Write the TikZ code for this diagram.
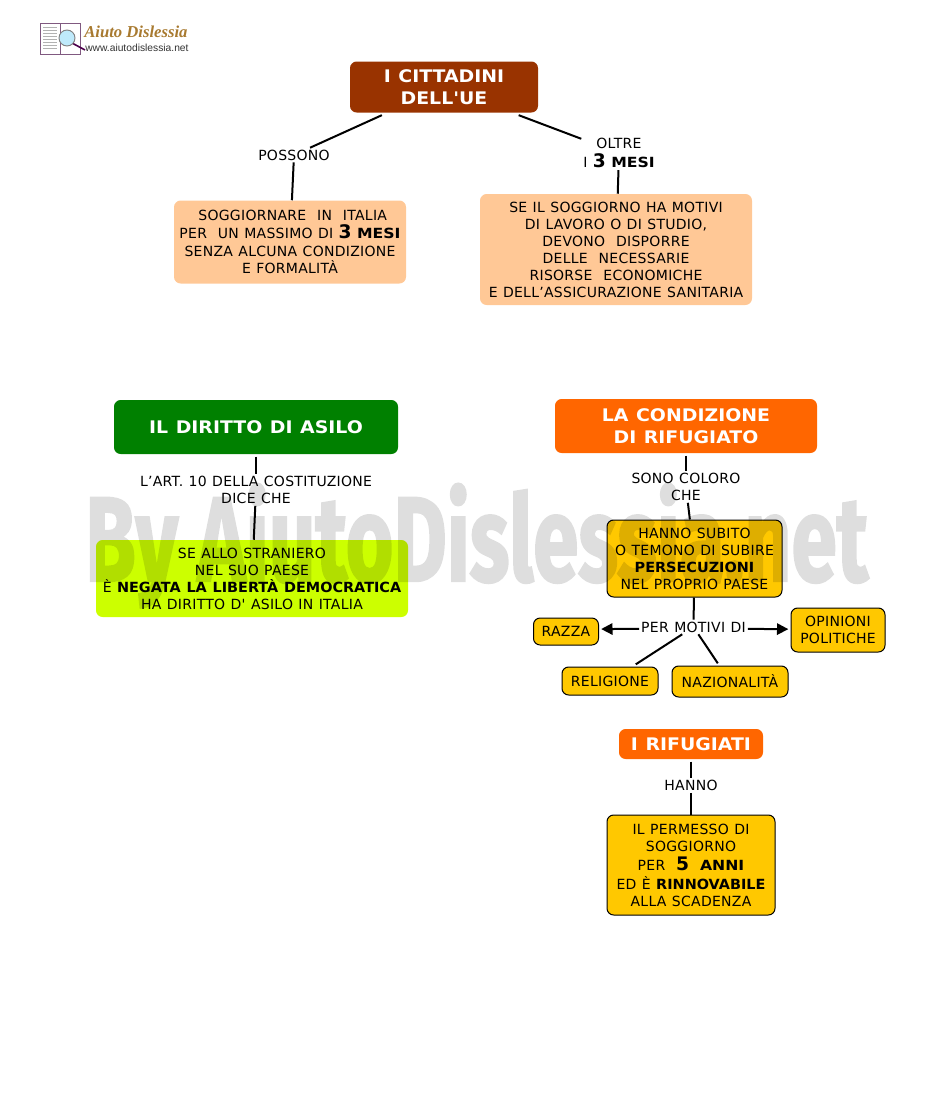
\documentclass[tikz,border=0pt]{standalone}
\usepackage{fontspec}
\setmainfont[Ligatures=TeXOff,LetterSpace=2,WordSpace=1.15]{DejaVu Sans}
\newfontfamily\markfont[BoldFeatures={FakeBold=2}]{Fira Sans}
\newfontfamily\logofont{Liberation Serif}
\newfontfamily\webfont{Liberation Sans}
\usepackage{xcolor}
\usetikzlibrary{arrows.meta,positioning}

\definecolor{brownbox}{HTML}{993300}
\definecolor{orangebox}{HTML}{FF6600}
\definecolor{greenbox}{HTML}{008000}
\definecolor{peachbox}{HTML}{FFC896}
\definecolor{limebox}{HTML}{CCFF00}
\definecolor{amberbox}{HTML}{FFC800}
\definecolor{logogold}{HTML}{A87A30}

\newcommand{\bignum}[1]{{\fontsize{14pt}{12.75pt}\selectfont\bfseries #1}}
\newcommand{\smallbf}[1]{{\bfseries\addfontfeature{LetterSpace=0,FakeStretch=1.12}#1}}
\newcommand{\heavy}[1]{{\bfseries\addfontfeature{LetterSpace=0,FakeStretch=1.03}#1}}

\tikzset{
    boxsize/.style 2 args={minimum width=#1*0.75pt, minimum height=#2*0.75pt},
    basebox/.style={rounded corners=5pt, align=center, inner sep=0pt,
        font=\fontsize{10.5pt}{12.75pt}\selectfont},
    titlebox/.style={basebox, fill=#1, text=white, outer sep=2pt,
        font=\fontsize{13pt}{16.5pt}\selectfont\bfseries\addfontfeature{LetterSpace=0,FakeStretch=1.09}},
    softbox/.style={basebox, fill=#1},
    linebox/.style={basebox, fill=amberbox, draw=black, line width=0.75pt},
    tagbox/.style={linebox, outer sep=2pt},
    linkword/.style={align=center, inner sep=0pt, outer sep=1.5pt,
        font=\fontsize{10.5pt}{12.75pt}\selectfont},
    link/.style={line width=1.5pt},
    arrowlink/.style={link, -{Triangle[length=8.5pt,width=8.5pt]}},
}

\begin{document}
\begin{tikzpicture}[x=0.75pt,y=-0.75pt]
    \useasboundingbox (0,0) rectangle (950,1100);

    % logo
    \draw[fill=white, draw=gray!70!violet, line width=0.7pt] (40,23) rectangle (60,54);
    \draw[fill=white, draw=gray!70!violet, line width=0.7pt] (60,23) rectangle (80,54);
    \foreach \y in {27,30,...,50} {
        \draw[gray!60, line width=0.4pt] (43,\y) -- (57,\y);
    }
    \draw[violet!60!black, line width=1.2pt] (72,43) -- (85,50);
    \draw[fill=cyan!25, draw=gray, line width=0.7pt] (67,38) circle (8);
    \node[inner sep=0pt, anchor=base west, text=logogold,
        font=\logofont\fontsize{12.5pt}{14pt}\selectfont\bfseries\itshape] (logoname) at (84,37) {Aiuto Dislessia};
    \node[inner sep=0pt, anchor=base west, text=black!80,
        font=\webfont\fontsize{7.7pt}{9pt}\selectfont] (logoweb) at (85,51.5) {www.aiutodislessia.net};

    % cittadini
    \node[titlebox=brownbox, boxsize={188}{51}] (cittadini) at (444,87) {I CITTADINI\\DELL'UE};
    \node[linkword] (possono) at (294,155) {POSSONO};
    \node[linkword] (oltre) at (619,153) {OLTRE\\[2pt]I \bignum{3} \smallbf{MESI}};
    \node[softbox=peachbox, boxsize={232}{83}] (soggiorno) at (290,242)
        {\ SOGGIORNARE\ \ IN\ \ ITALIA\\[1pt]PER\ \ UN MASSIMO DI \bignum{3} \smallbf{MESI}\\[1pt]SENZA ALCUNA CONDIZIONE\\E FORMALITÀ};
    \node[softbox=peachbox, boxsize={272}{111}] (motivi) at (616,249.5)
        {SE IL SOGGIORNO HA MOTIVI\\DI LAVORO O DI STUDIO,\\DEVONO\ \ DISPORRE\\DELLE\ \ NECESSARIE\\RISORSE\ \ ECONOMICHE\\E DELL’ASSICURAZIONE SANITARIA};

    \draw[link] (cittadini) -- (possono);
    \draw[link] (possono) -- (soggiorno);
    \draw[link] (cittadini) -- (oltre);
    \draw[link] (oltre) -- (motivi);

    % asilo
    \node[titlebox=greenbox, boxsize={284}{54}] (asilo) at (256,427) {IL DIRITTO DI ASILO};
    \node[linkword] (articolo) at (256,490) {L’ART. 10 DELLA COSTITUZIONE\\DICE CHE};
    \node[softbox=limebox, boxsize={312}{77}] (straniero) at (252,578.5)
        {SE ALLO STRANIERO\\NEL SUO PAESE\\È \heavy{NEGATA LA LIBERTÀ DEMOCRATICA}\\HA DIRITTO D' ASILO IN ITALIA};

    \draw[link] (asilo) -- (articolo);
    \draw[link] (articolo) -- (straniero);

    % rifugiato
    \node[titlebox=orangebox, boxsize={262}{54}] (condizione) at (686,426) {LA CONDIZIONE\\DI RIFUGIATO};
    \node[linkword] (coloro) at (686,487) {SONO COLORO\\CHE};
    \node[linebox, boxsize={175}{77}] (subito) at (694.5,558.5)
        {HANNO SUBITO\\O TEMONO DI SUBIRE\\\heavy{PERSECUZIONI}\\NEL PROPRIO PAESE};
    \node[linkword] (permotivi) at (693.5,627) {PER MOTIVI DI};
    \node[tagbox, boxsize={65}{27}] (razza) at (566,631.5) {RAZZA};
    \node[tagbox, boxsize={94}{44}] (opinioni) at (838,630) {OPINIONI\\POLITICHE};
    \node[tagbox, boxsize={96}{28}] (religione) at (610,681) {RELIGIONE};
    \node[tagbox, boxsize={116}{31}] (nazione) at (730,681.5) {NAZIONALITÀ};

    \draw[link] (condizione) -- (coloro);
    \draw[link] (coloro) -- (subito);
    \draw[link] (subito) -- (permotivi);
    \draw[arrowlink] (permotivi.182) -- (razza.4);
    \draw[arrowlink] (permotivi.-2) -- (opinioni.179);
    \draw[link] (permotivi) -- (religione);
    \draw[link] (permotivi) -- (nazione);

    % rifugiati
    \node[titlebox=orangebox, boxsize={144}{30}] (rifugiati) at (691,744) {I RIFUGIATI};
    \node[linkword] (hanno) at (691,785.5) {HANNO};
    \node[linebox, boxsize={168}{100}] (permesso) at (691,865)
        {IL PERMESSO DI\\SOGGIORNO\\[2pt]PER\ \ \bignum{5}\ \ \smallbf{ANNI}\\[1pt]ED È \heavy{RINNOVABILE}\\ALLA SCADENZA};

    \draw[link] (rifugiati) -- (hanno);
    \draw[link] (hanno) -- (permesso);

    % watermark
    \begin{scope}[transparency group, opacity=0.13]
        \node[inner sep=0pt, anchor=base west, text=black, font=\markfont\bfseries] (filigrana) at (85,581)
            {\resizebox{587pt}{73pt}{By AiutoDislessia.net}};
    \end{scope}
\end{tikzpicture}
\end{document}
